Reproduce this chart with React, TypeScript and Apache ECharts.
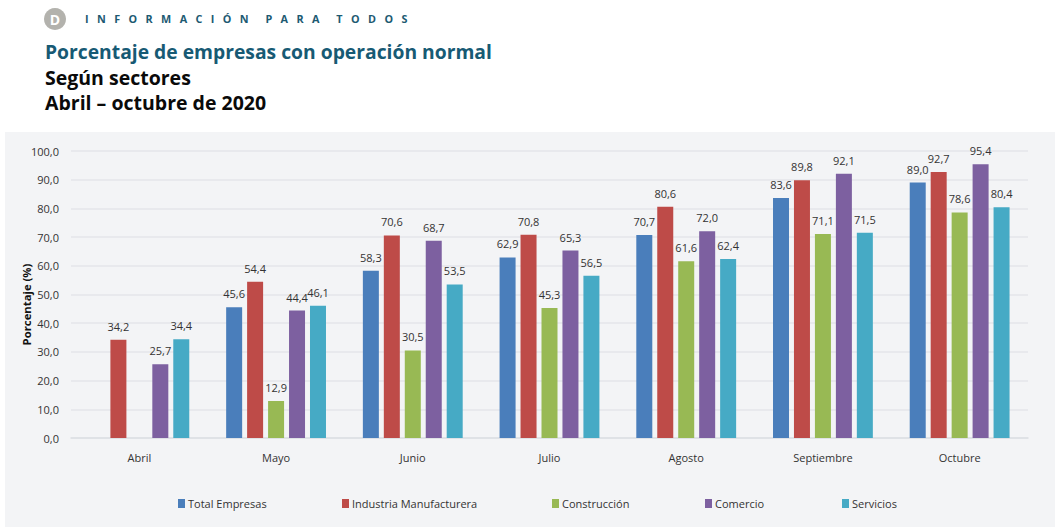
import React, { useEffect, useRef } from "react";
import * as echarts from "echarts";

const months = ["Abril", "Mayo", "Junio", "Julio", "Agosto", "Septiembre", "Octubre"];
const total = [null, 45.6, 58.3, 62.9, 70.7, 83.6, 89.0];
const industria = [34.2, 54.4, 70.6, 70.8, 80.6, 89.8, 92.7];
const construccion = [null, 12.9, 30.5, 45.3, 61.6, 71.1, 78.6];
const comercio = [25.7, 44.4, 68.7, 65.3, 72.0, 92.1, 95.4];
const servicios = [34.4, 46.1, 53.5, 56.5, 62.4, 71.5, 80.4];

const seriesDefs: [string, (number | null)[], string][] = [
  ["Total Empresas", total, "#4a7ebb"],
  ["Industria Manufacturera", industria, "#be4b48"],
  ["Construcción", construccion, "#98b954"],
  ["Comercio", comercio, "#7d60a0"],
  ["Servicios", servicios, "#46aac5"],
];
const legendLefts = [173, 337, 547, 700, 837];
const headerLine = ["INFORMACIÓN", "PARA", "TODOS"];

const FONT = "'Open Sans', sans-serif";
const fmt = (v: number) => v.toFixed(1).replace(".", ",");
const spaced = (w: string) => w.split("").join("\u00A0\u00A0\u00A0");

export default function App() {
  const ref = useRef<HTMLDivElement>(null);
  useEffect(() => {
    const chart = echarts.init(ref.current!, null, { renderer: "svg" });
    chart.setOption({
      animation: false,
      backgroundColor: "#ffffff",
      textStyle: { fontFamily: FONT },
      grid: { left: 71, right: 27, top: 151, bottom: 89, containLabel: false },
      xAxis: {
        type: "category",
        data: months,
        axisTick: { show: false },
        axisLine: { lineStyle: { color: "#dcdfe3", width: 1.5 } },
        axisLabel: { color: "#333", fontSize: 11, fontFamily: FONT, margin: 14 },
      },
      yAxis: {
        type: "value",
        min: 0,
        max: 100,
        interval: 10,
        name: "Porcentaje (%)",
        nameLocation: "middle",
        nameGap: 39,
        nameMoveOverlap: false,
        nameTextStyle: { color: "#111", fontSize: 11.3, fontWeight: "bold", fontFamily: FONT, padding: [0, 20, 0, 0] },
        axisLine: { show: false },
        axisTick: { show: false },
        axisLabel: { color: "#333", fontSize: 11, fontFamily: FONT, margin: 12, formatter: (v: number) => fmt(v) },
        splitLine: { lineStyle: { color: "#e4e6ea", width: 1.5 } },
      },
      legend: seriesDefs.map((s, i) => ({
        left: legendLefts[i],
        top: 493,
        icon: "rect",
        itemWidth: 7,
        itemHeight: 9,
        textStyle: { color: "#333", fontSize: 11, fontFamily: FONT, padding: [0, 0, 0, -2] },
        data: [s[0]],
      })),
      graphic: [
        { type: "rect", z: -10, shape: { x: 5, y: 132, width: 1050, height: 395 }, style: { fill: "#f3f4f6" } },
        { type: "circle", shape: { cx: 55, cy: 19, r: 11 }, style: { fill: "#b3b2ad" } },
        { type: "text", x: 55, y: 19, style: { text: "D", fill: "#ffffff", font: "bold 14px " + FONT, align: "center", verticalAlign: "middle" } },
        { type: "text", x: 85, y: 13, style: { text: headerLine.map(spaced).join("\u00A0\u00A0\u00A0\u00A0\u00A0\u00A0"), fill: "#1d5a72", font: "bold 10.8px " + FONT } },
        { type: "text", x: 45, y: 42, style: { text: "Porcentaje de empresas con operación normal", fill: "#175a74", font: "bold 19.3px " + FONT } },
        { type: "text", x: 45, y: 67, style: { text: "Según sectores", fill: "#0a0a0a", font: "bold 19.5px " + FONT } },
        { type: "text", x: 45, y: 92, style: { text: "Abril – octubre de 2020", fill: "#0a0a0a", font: "bold 19.5px " + FONT } },
      ],
      series: seriesDefs.map(([name, data, color]) => ({
        name,
        type: "bar",
        data,
        barWidth: 16,
        barGap: "31%",
        itemStyle: { color },
        label: {
          show: true,
          position: "top",
          distance: 8,
          color: "#333",
          fontSize: 11,
          fontFamily: FONT,
          formatter: (p: any) => fmt(p.value),
        },
      })),
    });
    return () => chart.dispose();
  }, []);
  return <div ref={ref} style={{ position: "absolute", left: 0, top: 0, width: 1055, height: 527 }} />;
}
